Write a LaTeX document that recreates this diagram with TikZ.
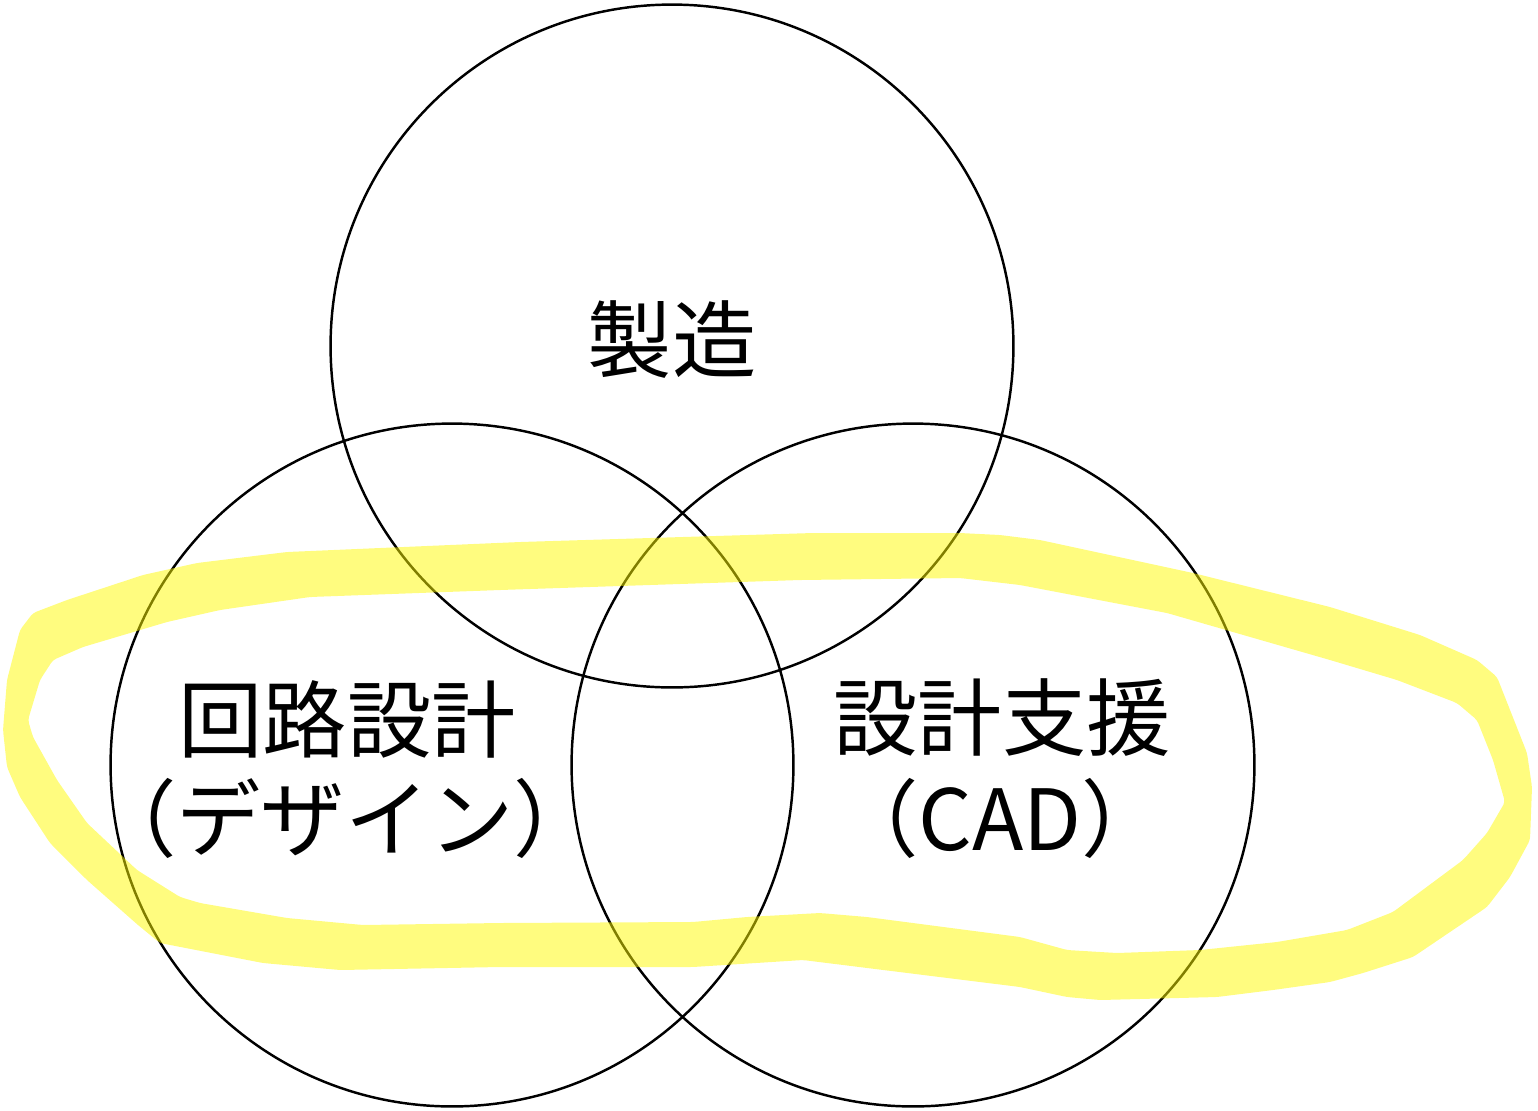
\documentclass[tikz,border=0pt]{standalone}
\usepackage{fontspec}
\newfontfamily\jpfont{Noto Sans CJK JP}
\begin{document}
\begin{tikzpicture}[x=0.02cm,y=-0.02cm,
  ring/.style={circle, draw=black, line width=1.4pt, minimum size=13.66cm, inner sep=0pt},
  label/.style={font=\jpfont\fontsize{48}{58}\selectfont, text=black, inner sep=0pt},
  marker/.style={fill={rgb,255:red,255;green,250;blue,0}, fill opacity=0.5, even odd rule, rounded corners=2pt}]
\useasboundingbox (0,0) rectangle (1538,1110);
\node[ring] (top) at (672,346) {};
\node[ring] (left) at (452,765) {};
\node[ring] (right) at (913,765) {};
\node[label] (seizo) at (672,340) {製造};
\node[label] (kairo) at (347,719) {回路設計};
\node[label] (design) at (345,818) {（デザイン）};
\node[label] (sekkei) at (1002,718) {設計支援};
\node[label] (cad) at (1000,818) {（CAD）};
\fill[marker]
  % outer edge
  (197,563) -- (287,552) -- (520,542) -- (813,533) -- (960,533) -- (1000,535) -- (1040,540)
  -- (1193,573) -- (1330,607) -- (1420,635) -- (1477,660) -- (1497,677) -- (1527,753)
  -- (1532,787) -- (1530,840) -- (1510,877) -- (1487,907) -- (1413,957) -- (1363,973)
  -- (1330,982) -- (1273,990) -- (1217,997) -- (1100,1000) -- (1067,997) -- (1020,987)
  -- (803,960) -- (693,967) -- (500,967) -- (340,970) -- (263,963) -- (160,943)
  -- (138,925) -- (87,880) -- (50,843) -- (20,797) -- (7,767) -- (3,730) -- (7,680)
  -- (20,630) -- (33,613) -- (67,600) -- (143,575) -- cycle
  % inner edge
  (310,597) -- (500,590) -- (800,580) -- (960,578) -- (1020,585) -- (1167,613)
  -- (1330,660) -- (1397,680) -- (1457,703) -- (1477,720) -- (1493,760) -- (1505,802)
  -- (1487,833) -- (1463,860) -- (1393,912) -- (1347,930) -- (1277,942) -- (1200,950)
  -- (1117,953) -- (1067,950) -- (1020,937) -- (867,917) -- (820,913) -- (747,917)
  -- (693,922) -- (500,923) -- (363,925) -- (287,918) -- (200,903) -- (180,897)
  -- (137,870) -- (87,823) -- (57,780) -- (33,737) -- (28,720) -- (40,680) -- (53,660)
  -- (83,647) -- (167,622) -- (220,610) -- cycle;
\end{tikzpicture}
\end{document}
